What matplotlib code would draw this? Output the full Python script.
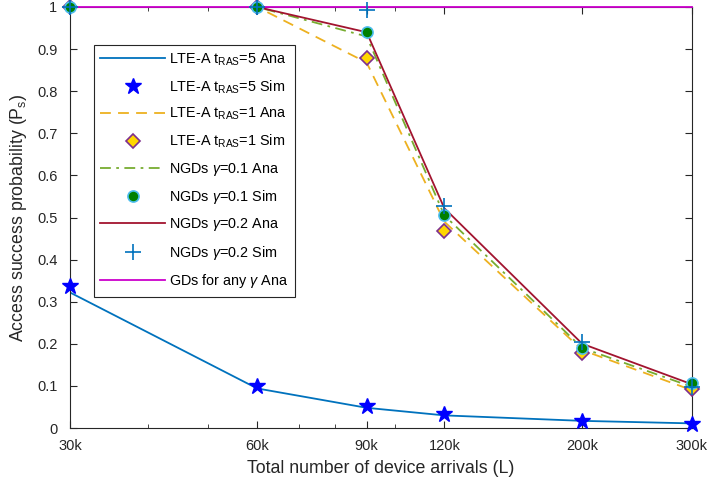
import numpy as np
import matplotlib
matplotlib.use('Agg')
import matplotlib.pyplot as plt
from matplotlib.ticker import FixedLocator, NullFormatter

plt.rcParams['font.family'] = ['Liberation Sans', 'DejaVu Sans']
plt.rcParams['mathtext.fontset'] = 'custom'
plt.rcParams['mathtext.rm'] = 'Liberation Sans'
plt.rcParams['mathtext.it'] = 'Liberation Sans:italic'

# device arrivals (L)
L = [30e3, 60e3, 90e3, 120e3, 200e3, 300e3]
tick_labels = ['30k', '60k', '90k', '120k', '200k', '300k']

# LTE-A, t_RAS = 5
lte5_ana = [0.322, 0.094, 0.048, 0.030, 0.017, 0.011]
lte5_sim = [0.337, 0.100, 0.052, 0.034, 0.016, 0.010]
# LTE-A, t_RAS = 1
lte1_ana = [1.0, 1.0, 0.868, 0.490, 0.185, 0.090]
lte1_sim = [1.0, 1.0, 0.880, 0.469, 0.177, 0.093]
# NGDs gamma = 0.1
ngd01_ana = [1.0, 1.0, 0.930, 0.505, 0.190, 0.098]
ngd01_sim = [1.0, 1.0, 0.940, 0.505, 0.190, 0.108]
# NGDs gamma = 0.2
ngd02_ana = [1.0, 1.0, 0.940, 0.522, 0.200, 0.104]
ngd02_sim = [1.0, 1.0, 0.992, 0.528, 0.205, 0.097]
# GDs
gd_ana = [1.0, 1.0, 1.0, 1.0, 1.0, 1.0]

fig = plt.figure(figsize=(7.09, 4.82), dpi=100)
ax = fig.add_axes([0.0987, 0.112, 0.877, 0.8735])

ax.plot(L, lte5_ana, color='#0072BD', lw=1.3, label='LTE-A t$_{\\rm RAS}$=5 Ana')
ax.plot(L, lte5_sim, ls='none', marker='*', ms=12, color='#0000FF', clip_on=False,
        zorder=6, label='LTE-A t$_{\\rm RAS}$=5 Sim')
ax.plot(L, lte1_ana, color='#EDB120', lw=1.3, ls=(0, (6, 4)),
        label='LTE-A t$_{\\rm RAS}$=1 Ana')
ax.plot(L, lte1_sim, ls='none', marker='D', ms=7, mfc='#FFD700', mec='#7E2F8E',
        mew=1.2, clip_on=False, zorder=6, label='LTE-A t$_{\\rm RAS}$=1 Sim')
ax.plot(L, ngd01_ana, color='#77AC30', lw=1.3, ls=(0, (6, 3, 1.5, 3)),
        label='NGDs $\\gamma$=0.1 Ana')
ax.plot(L, ngd01_sim, ls='none', marker='o', ms=8, mfc='#008000', mec='#4DBEEE',
        mew=1.2, clip_on=False, zorder=6, label='NGDs $\\gamma$=0.1 Sim')
ax.plot(L, ngd02_ana, color='#A2142F', lw=1.3, label='NGDs $\\gamma$=0.2 Ana')
ax.plot(L, ngd02_sim, ls='none', marker='+', ms=12, mew=1.2, color='#0072BD',
        clip_on=False, zorder=7, label='NGDs $\\gamma$=0.2 Sim')
ax.plot(L, gd_ana, color='#CC00CC', lw=1.3, label='GDs for any $\\gamma$ Ana',
        clip_on=False, zorder=5)

ax.set_xscale('log')
ax.set_xlim(30e3, 300e3)
ax.set_ylim(0, 1)
ax.xaxis.set_major_locator(FixedLocator(L))
ax.set_xticklabels(tick_labels)
ax.xaxis.set_minor_locator(FixedLocator([40e3, 50e3, 70e3, 80e3, 100e3]))
ax.xaxis.set_minor_formatter(NullFormatter())
ax.set_yticks(np.arange(0, 1.01, 0.1))
ax.set_yticklabels(['0', '0.1', '0.2', '0.3', '0.4', '0.5', '0.6', '0.7', '0.8', '0.9', '1'])

ax.tick_params(which='both', direction='in', top=True, right=True,
               labelsize=10.5, colors='#262626')
ax.tick_params(which='major', length=5)
ax.tick_params(which='minor', length=3)
ax.tick_params(axis='y', pad=9)
ax.tick_params(axis='x', pad=8)
for s in ax.spines.values():
    s.set_color('#262626')
    s.set_linewidth(0.8)

ax.set_xlabel('Total number of device arrivals (L)', fontsize=12.8, color='#262626',
              labelpad=5)
ax.set_ylabel('Access success probability (P$_{\\rm s}$)', fontsize=12.8, color='#262626',
              labelpad=6)

leg = ax.legend(loc='upper left', bbox_to_anchor=(0.038, 0.91), fontsize=10.4,
                handlelength=4.5, labelspacing=0.72, borderpad=0.45,
                fancybox=False, framealpha=1, edgecolor='#262626',
                handletextpad=0.3, borderaxespad=0)
leg.get_frame().set_linewidth(0.8)

fig.savefig('out.png', dpi=100)
